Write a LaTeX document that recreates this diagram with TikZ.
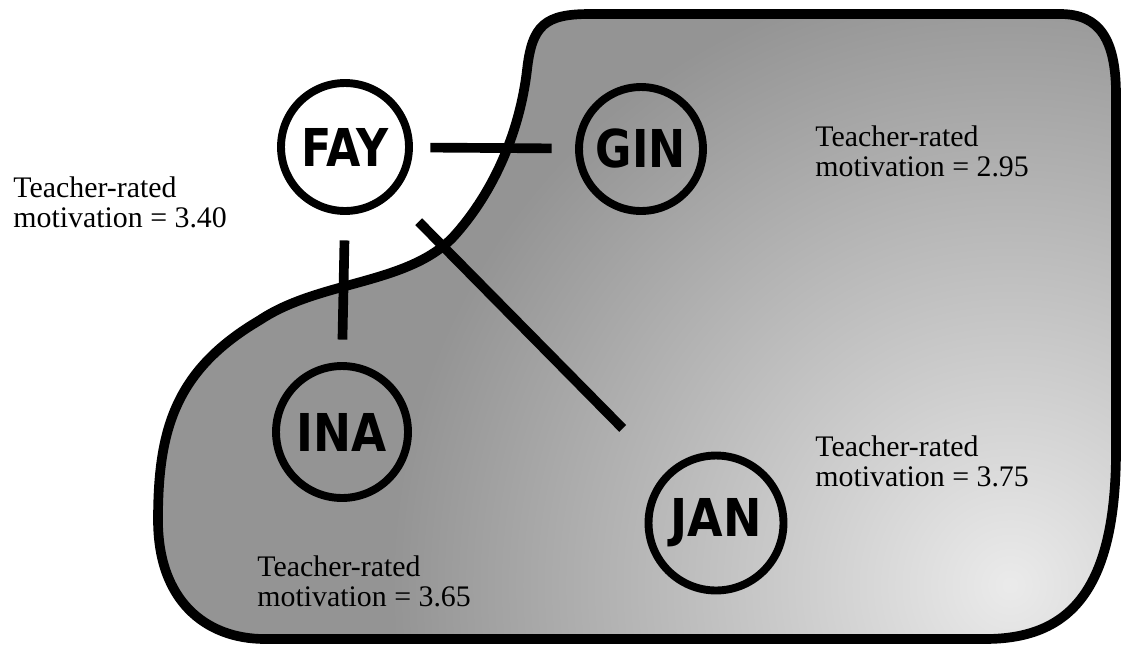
\documentclass[tikz,border=0pt]{standalone}
\usepackage{fontspec}
\usepackage{graphicx}
\setmainfont{Liberation Serif}
\newfontfamily\namefont{DejaVu Sans}
\begin{document}
\begin{tikzpicture}[x=0.02cm,y=-0.02cm,
  person/.style={circle,draw,line width=4.5pt,inner sep=0pt,
    font=\namefont\bfseries\fontsize{29.7}{30}\selectfont},
  link/.style={line width=5.5pt},
  border/.style={line width=5.5pt,line join=round},
  lbl/.style={anchor=north west,inner sep=0pt,align=left,
    font=\fontsize{17}{17.1}\selectfont}]
\useasboundingbox (0,0) rectangle (1124,646);
\def\regionpath{(590,14) -- (1060,14)
  .. controls (1100,14) and (1116,40) .. (1116,95)
  -- (1116,450)
  .. controls (1116,590) and (1070,639) .. (985,639)
  -- (265,639)
  .. controls (205,639) and (158,600) .. (158,520)
  .. controls (158,430) and (175,370) .. (260,320)
  .. controls (320,280) and (410,285) .. (455,235)
  .. controls (495,190) and (520,130) .. (527,70)
  .. controls (532,25) and (545,14) .. (590,14) -- cycle}
\fill[black!42] \regionpath;
\begin{scope}
  \clip \regionpath;
  \shade[inner color=black!8,outer color=black!42] (1010,585) circle (620);
\end{scope}
\draw[border] \regionpath;

\node[person,minimum size=2.56cm] (fay) at (345,147) {\scalebox{0.85}[1]{FAY}};
\node[person,minimum size=2.48cm] (gin) at (641,149) {\scalebox{0.85}[1]{GIN}};
\node[person,minimum size=2.64cm] (ina) at (342,432) {\scalebox{0.87}[1]{INA}};
\node[person,minimum size=2.70cm] (jan) at (716,523) {\scalebox{0.88}[1]{JAN}};

\draw[link,shorten <=0.35cm,shorten >=0.47cm] (fay) -- (gin);
\draw[link,shorten <=0.51cm,shorten >=0.45cm] (fay.south) -- (ina.north);
\draw[link,shorten <=0.74cm,shorten >=1.23cm] (fay) -- (jan);

\node[lbl] (tfay) at (13,176) {Teacher-rated\\motivation = 3.40};
\node[lbl] (tgin) at (815,125) {Teacher-rated\\motivation = 2.95};
\node[lbl] (tjan) at (815,435) {Teacher-rated\\motivation = 3.75};
\node[lbl] (tina) at (257,555) {Teacher-rated\\motivation = 3.65};
\end{tikzpicture}
\end{document}
